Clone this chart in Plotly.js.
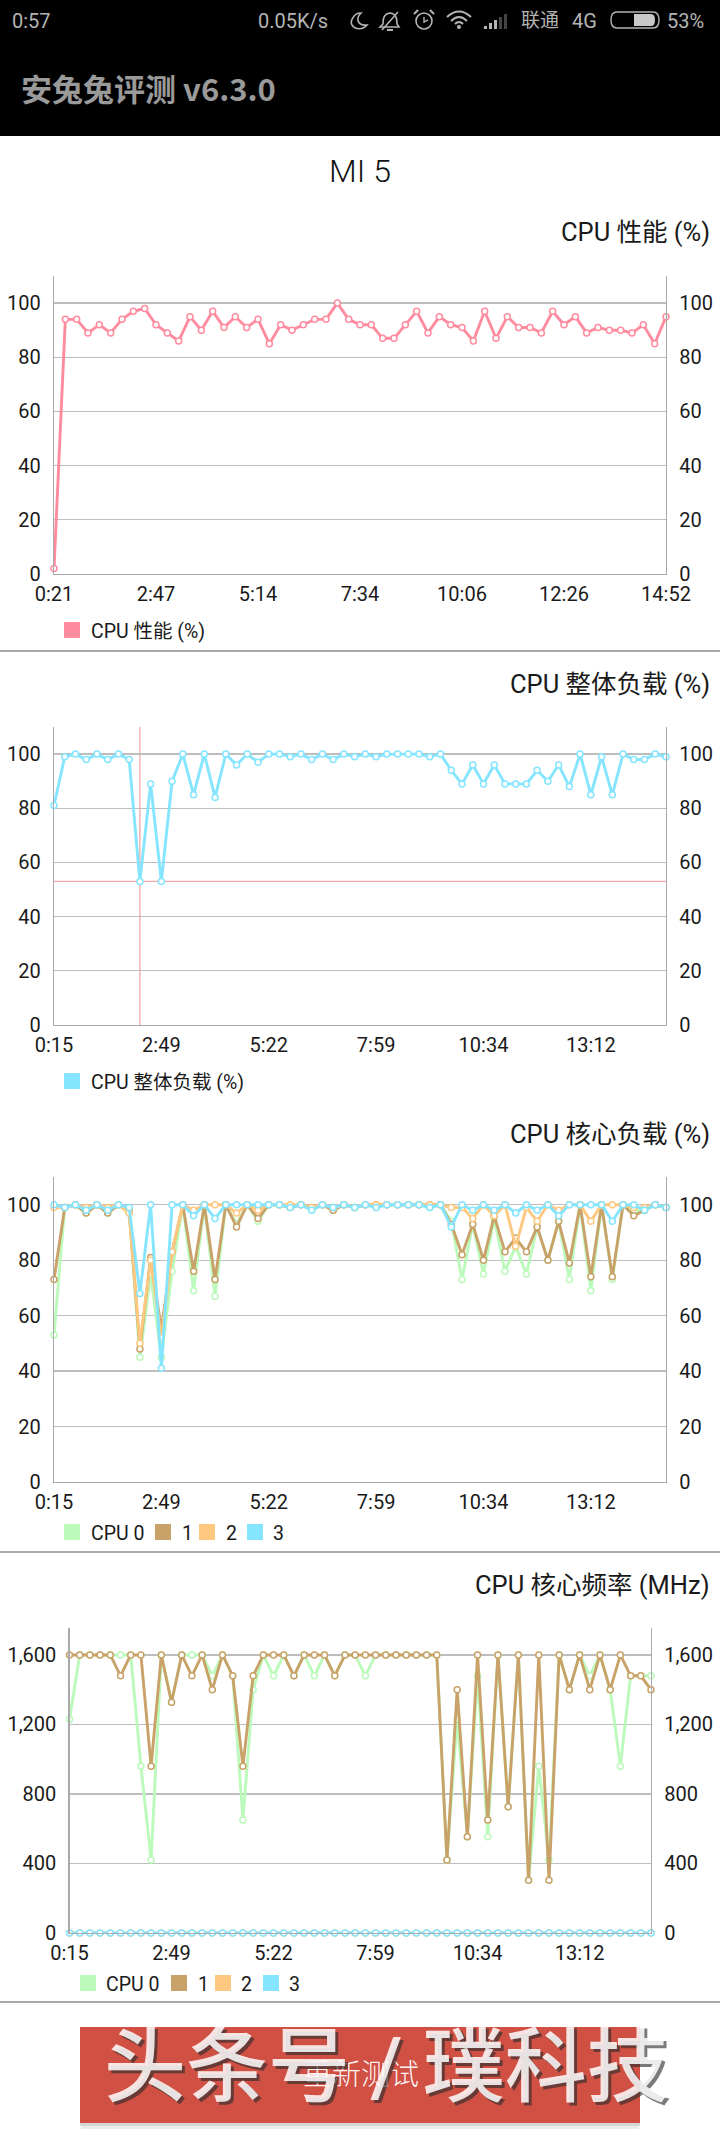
<!DOCTYPE html>
<html>
<head>
<meta charset="utf-8">
<script src="https://cdn.plot.ly/plotly-3.0.1.min.js"></script>
<style>html,body{margin:0;padding:0;background:#fff}#chart{width:720px;height:2143px}</style>
</head>
<body>
<div id="chart"></div>
<script>
// ---------- data ----------
const perfTickIndex = [0, 9, 18, 27, 36, 45, 54];
const perfTickLabels = ["0:21", "2:47", "5:14", "7:34", "10:06", "12:26", "14:52"];
const loadTickIndex = [0, 10, 20, 30, 40, 50];
const loadTickLabels = ["0:15", "2:49", "5:22", "7:59", "10:34", "13:12"];

const perfValues = [2,94,94,89,92,89,94,97,98,92,89,86,95,90,97,91,95,91,94,85,92,90,92,94,94,100,94,92,
  92,87,87,92,97,89,95,92,91,86,97,87,95,91,91,89,97,92,95,89,91,90,90,89,92,85,95];

const overallLoad = [81,99,100,98,100,98,100,98,53,89,53,90,100,85,100,84,100,96,100,97,100,100,99,100,98,100,98,100,99,
  100,99,100,100,100,100,99,100,94,89,96,89,96,89,89,89,94,90,96,88,100,85,99,85,100,98,98,100,99];
const crosshairIndex = [8];
const crosshairValue = [53];

const core0Load = [53,99,100,97,100,97,100,97,45,75,45,76,100,69,100,67,100,93,100,94,100,100,99,100,98,100,98,100,99,
  100,99,100,100,100,100,99,100,94,73,93,75,95,76,85,75,92,80,94,73,100,69,100,73,100,98,98,100,99];
const core1Load = [73,99,100,97,100,97,100,98,48,81,55,83,100,76,100,73,100,92,100,95,100,100,99,100,99,100,98,100,99,
  100,100,100,100,100,100,100,100,93,82,93,80,96,83,88,83,92,80,94,79,100,74,100,74,100,96,98,100,99];
const core2Load = [99,99,100,99,100,99,100,97,50,80,52,83,100,98,100,100,100,97,100,98,100,100,100,100,99,100,99,100,99,
  100,100,100,100,100,100,100,100,99,99,95,100,96,100,85,99,94,100,98,100,100,94,100,100,100,99,99,100,99];
const core3Load = [100,99,100,98,100,98,100,99,68,100,41,100,100,96,100,95,100,100,100,100,100,100,99,100,98,100,99,100,99,
  100,99,100,100,100,100,99,100,92,100,98,100,98,100,97,100,98,100,96,100,100,100,100,94,100,100,98,100,99];

const core0Freq = [1230,1600,1600,1600,1600,1600,1600,960,420,1600,1328,1600,1600,1600,1480,1600,1480,650,1400,1600,1480,1600,1480,1600,1480,1600,1480,1600,1600,
  1480,1600,1600,1600,1600,1600,1600,1600,420,1230,554,1480,554,1600,727,1600,303,960,420,1600,1400,1600,1480,1600,1400,960,1480,1480,1480];
const core1Freq = [1600,1600,1600,1600,1600,1480,1600,1600,960,1600,1328,1600,1480,1600,1400,1600,1480,960,1480,1600,1600,1600,1480,1600,1600,1600,1480,1600,1600,
  1600,1600,1600,1600,1600,1600,1600,1600,420,1400,554,1600,650,1600,727,1600,303,1600,303,1600,1400,1600,1400,1600,1400,1600,1480,1480,1400];
const core2Freq = [0,0,0,0,0,0,0,0,0,0,0,0,0,0,0,0,0,0,0,0,0,0,0,0,0,0,0,0,0,0,0,0,0,0,0,0,0,0,0,0,0,0,0,0,0,0,0,0,0,0,0,0,0,0,0,0,0,0];
const core3Freq = [0,0,0,0,0,0,0,0,0,0,0,0,0,0,0,0,0,0,0,0,0,0,0,0,0,0,0,0,0,0,0,0,0,0,0,0,0,0,0,0,0,0,0,0,0,0,0,0,0,0,0,0,0,0,0,0,0,0];

const pctTicks = [0,20,40,60,80,100];
const freqTicks = [0,400,800,1200,1600];
const coreNames = ["CPU 0","1","2","3"];

// ---------- styles ----------
const W = 720, H = 2143;
const fx = x => x / W, fy = y => 1 - y / H;
const FONT = 'Roboto, "Noto Sans CJK SC", sans-serif';
const CJK = 'Roboto, "Noto Sans CJK SC", sans-serif';
const PINK='#ff8c9e', BLUE='#85e5ff', GREEN='#bbfabb', BROWN='#c8a268', ORANGE='#ffc880';
const coreColors=[GREEN,BROWN,ORANGE,BLUE];
const AXIS='#a9a9a9', GRID='#bdbdbd', INK='#1a1a1a', STATUS='#b4b4b4';

const charts = [
 {title:"CPU 性能 (%)", titleY:232, left:54,right:666,top:276,bottom:574,max:110,ticks:pctTicks,tv:perfTickIndex,tt:perfTickLabels,lw:2.9,
  series:[{name:"CPU 性能 (%)",y:perfValues,color:PINK}],
  legendY:631, legend:[[64,90.7]]},
 {title:"CPU 整体负载 (%)", titleY:684, left:54,right:666,top:727,bottom:1025,max:110,ticks:pctTicks,tv:loadTickIndex,tt:loadTickLabels,lw:2.9,
  series:[{name:"CPU 整体负载 (%)",y:overallLoad,color:BLUE}],
  legendY:1082, legend:[[64,90.7]]},
 {title:"CPU 核心负载 (%)", titleY:1134, left:54,right:666,top:1177,bottom:1482,max:110,ticks:pctTicks,tv:loadTickIndex,tt:loadTickLabels,lw:2.9,
  series:[core0Load,core1Load,core2Load,core3Load].map((y,i)=>({name:coreNames[i],y,color:coreColors[i]})),
  legendY:1533, legend:[[64,90.7],[155,182],[199,226],[247,273]]},
 {title:"CPU 核心频率 (MHz)", titleY:1585, left:69.5,right:651,top:1628,bottom:1933,max:1755,ticks:freqTicks,tv:loadTickIndex,tt:loadTickLabels,lw:2.9,
  series:[core0Freq,core1Freq,core2Freq,core3Freq].map((y,i)=>({name:coreNames[i],y,color:coreColors[i]})),
  legendY:1984, legend:[[80,106],[171,198],[215,241],[263,289]]}
];

const traces=[], shapes=[], annotations=[];
const layout = {
  width:W, height:H, autosize:false,
  margin:{l:0,r:0,t:0,b:0,pad:0},
  paper_bgcolor:'#fff', plot_bgcolor:'rgba(0,0,0,0)',
  showlegend:false, hovermode:false,
  font:{family:FONT,color:INK},
  title:{text:'MI 5',x:0.5,xref:'paper',xanchor:'center',y:fy(171),yref:'paper',yanchor:'middle',font:{family:FONT,size:32,color:'#111',weight:300}}
};

function txt(text,x,y,size,color,anchor,extra){
  annotations.push(Object.assign({text,x:fx(x),y:fy(y),xref:'paper',yref:'paper',showarrow:false,
    xanchor:anchor||'left',yanchor:'middle',font:{family:FONT,size,color},borderpad:0,borderwidth:0},extra||{}));
}
function rect(x0,y0,x1,y1,fill,layer){
  shapes.push({type:'rect',xref:'paper',yref:'paper',x0:fx(x0),x1:fx(x1),y0:fy(y0),y1:fy(y1),
    fillcolor:fill,line:{width:0},layer:layer||'below'});
}
function hline(y,color,w){
  shapes.push({type:'line',xref:'paper',yref:'paper',x0:0,x1:1,y0:fy(y),y1:fy(y),line:{color,width:w},layer:'below'});
}
// icon helper: takes a list of ['M',x,y,...] in page pixels and returns a paper-coordinate path
function icon(cmds,fill,stroke,sw){
  const d=cmds.map(c=>{
    const t=c[0]; const nums=c.slice(1); const out=[];
    for(let i=0;i<nums.length;i+=2) out.push(fx(nums[i]).toFixed(5)+','+fy(nums[i+1]).toFixed(5));
    return t+out.join(' ');
  }).join(' ');
  shapes.push({type:'path',xref:'paper',yref:'paper',path:d,fillcolor:fill||'rgba(0,0,0,0)',
    line:{color:stroke||'rgba(0,0,0,0)',width:sw||0},layer:'above'});
}

// ---------- four charts ----------
charts.forEach((c,idx)=>{
  const n=idx+1, xk=n===1?'x':'x'+n, yk=n===1?'y':'y'+n, rk='y'+(n+4);
  const xName=n===1?'xaxis':'xaxis'+n, yName=n===1?'yaxis':'yaxis'+n, rName='yaxis'+(n+4);
  const count=c.series[0].y.length;
  layout[xName]={domain:[fx(c.left),fx(c.right)],anchor:yk,range:[0,count-1],tickmode:'array',tickvals:c.tv,ticktext:c.tt,
    showgrid:false,zeroline:false,showline:true,linecolor:AXIS,linewidth:1.4,ticks:'outside',ticklen:2,tickcolor:'rgba(0,0,0,0)',
    tickangle:0,tickfont:{family:FONT,size:20,color:INK},fixedrange:true};
  const yBase={domain:[fy(c.bottom),fy(c.top)],range:[0,c.max],tickmode:'array',tickvals:c.ticks,
    ticktext:c.ticks.map(v=>v.toLocaleString('en-US')),showline:true,linecolor:AXIS,linewidth:1.2,zeroline:false,
    ticks:'outside',ticklen:8,tickcolor:'rgba(0,0,0,0)',tickfont:{family:FONT,size:20,color:INK},fixedrange:true};
  layout[yName]=Object.assign({},yBase,{anchor:xk,side:'left',showgrid:true,gridcolor:GRID,gridwidth:1.2});
  layout[rName]=Object.assign({},yBase,{anchor:xk,side:'right',overlaying:yk,showgrid:false});
  // right-hand axis needs a trace of its own to be drawn
  traces.push({type:'scatter',mode:'lines',x:[null],y:[null],xaxis:xk,yaxis:rk,showlegend:false,hoverinfo:'skip'});
  c.series.forEach(s=>{
    traces.push({type:'scatter',mode:'lines+markers',name:s.name,x:s.y.map((_,i)=>i),y:s.y,xaxis:xk,yaxis:yk,cliponaxis:false,
      line:{color:s.color,width:c.lw},marker:{symbol:'circle',size:6,color:'#fff',line:{color:s.color,width:1.5}}});
  });
  txt(c.title,710,c.titleY,25.5,INK,'right',{font:{family:CJK,size:25.5,color:INK}});
  c.legend.forEach((l,i)=>{
    rect(l[0],c.legendY-9,l[0]+16,c.legendY+7,c.series[i].color,'below');
    txt(c.series[i].name,l[1],c.legendY,19.5,INK,'left',{font:{family:CJK,size:19.5,color:INK}});
  });
});

// crosshair on the overall-load chart
shapes.push({type:'line',xref:'x2',yref:'y2',x0:crosshairIndex[0],x1:crosshairIndex[0],y0:0,y1:110,line:{color:'#f0a8a8',width:1.3},layer:'below'});
shapes.push({type:'line',xref:'x2',yref:'y2',x0:0,x1:57,y0:crosshairValue[0],y1:crosshairValue[0],line:{color:'#f0a8a8',width:1.3},layer:'below'});

// ---------- page chrome ----------
rect(0,0,720,136,'#000','below');
[651,1552,2002].forEach(y=>hline(y,'#8c8c8c',1.6));

txt('0:57',12,21,20,STATUS);
txt('0.05K/s',258,21,20,STATUS);
txt('联通',521,21,19,STATUS,'left',{font:{family:CJK,size:19,color:STATUS}});
txt('4G',572,21,20,STATUS);
txt('53%',667,21,20,STATUS);
txt('安兔兔评测 v6.3.0',21,88,31,'#9a9a9a','left',{font:{family:'"Noto Sans CJK SC", "Liberation Sans", sans-serif',size:31,color:'#9a9a9a',weight:700}});

// moon
icon([['M',361,13],['C',353,13,350,22,352,25],['C',355,30,363,30,367,25],['C',358,26,355,19,361,13],['Z']],null,STATUS,1.6);
// muted bell
icon([['M',390,13],['C',383,14,383,20,383,24],['L',380,27],['L',399,27],['L',397,24],['C',397,20,397,14,390,13],['Z']],null,STATUS,1.6);
icon([['M',382,30],['L',398,12]],null,STATUS,1.6);
icon([['M',387,30],['L',393,30]],null,STATUS,2);
// alarm clock
shapes.push({type:'circle',xref:'paper',yref:'paper',x0:fx(416),x1:fx(432),y0:fy(13),y1:fy(29),line:{color:STATUS,width:1.6},layer:'above'});
icon([['M',424,17],['L',424,22],['L',428,20]],null,STATUS,1.4);
icon([['M',414,14],['L',418,10]],null,STATUS,2);
icon([['M',434,14],['L',430,10]],null,STATUS,2);
// wifi
icon([['M',447,17],['Q',459,6,471,17]],null,STATUS,2);
icon([['M',451,21],['Q',459,13,467,21]],null,STATUS,2);
icon([['M',455,24],['Q',459,20,463,24]],null,STATUS,2);
shapes.push({type:'circle',xref:'paper',yref:'paper',x0:fx(457),x1:fx(461),y0:fy(25),y1:fy(29),fillcolor:STATUS,line:{width:0},layer:'above'});
// signal bars
[[484,26,'#b4b4b4'],[489,23,'#b4b4b4'],[494,20,'#b4b4b4'],[499,17,'#444'],[504,14,'#444']].forEach(b=>rect(b[0],b[1],b[0]+3,29,b[2],'above'));
// battery
shapes.push({type:'path',xref:'paper',yref:'paper',layer:'above',fillcolor:'rgba(0,0,0,0)',line:{color:STATUS,width:1.4},
  path:['M',fx(617),',',fy(12),' L',fx(653),',',fy(12),' Q',fx(659),',',fy(12),' ',fx(659),',',fy(20),' Q',fx(659),',',fy(28),' ',fx(653),',',fy(28),
   ' L',fx(617),',',fy(28),' Q',fx(611),',',fy(28),' ',fx(611),',',fy(20),' Q',fx(611),',',fy(12),' ',fx(617),',',fy(12),' Z'].join('')});
shapes.push({type:'path',xref:'paper',yref:'paper',layer:'above',fillcolor:'#c8c8c8',line:{width:0},
  path:['M',fx(634),',',fy(14),' L',fx(651),',',fy(14),' Q',fx(655),',',fy(14),' ',fx(655),',',fy(20),' Q',fx(655),',',fy(26),' ',fx(651),',',fy(26),' L',fx(634),',',fy(26),' Z'].join('')});

// button with overlaid watermark
rect(80,2123,640,2126,'rgba(0,0,0,0.16)','below');
rect(81,2126,639,2129,'rgba(0,0,0,0.07)','below');
rect(80,2027,640,2123,'#d15044','below');
txt('重新测试',361,2075,29,'#fff','center',{font:{family:CJK,size:29,color:'rgba(255,255,255,0.95)',weight:300}});
txt('头条号 / 璞科技',386,2067,82,'rgba(255,255,255,0.85)','center',
  {font:{family:CJK,size:82,color:'rgba(255,255,255,0.85)',weight:500,shadow:'3px 3px 0 rgba(45,45,45,0.75)'}});

layout.shapes=shapes;
layout.annotations=annotations;
Plotly.newPlot('chart',traces,layout,{staticPlot:true,displayModeBar:false});
</script>
</body>
</html>
